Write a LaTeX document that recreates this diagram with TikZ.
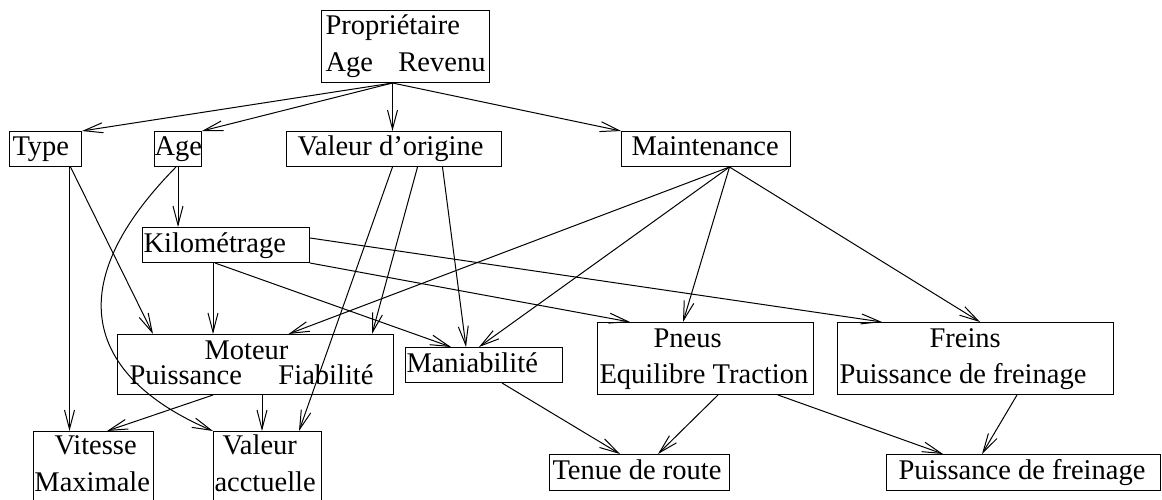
\documentclass[tikz,border=0pt]{standalone}
\usepackage{fontspec}
\setmainfont{Liberation Serif}
\usetikzlibrary{arrows.meta}
\newcommand\OneL[3]{\hbox to #1{\hskip#2\relax\rule[-6.5pt]{0pt}{27pt}#3\hss}}
\newcommand\TwoL[7]{\vbox{\baselineskip=#2\lineskiplimit=-100pt\lineskip=0pt\hbox to #1{\hskip#3\relax\rule[-6.5pt]{0pt}{27pt}#4\hss}\hbox to #1{\hskip#5\relax\rule[-#7]{0pt}{\dimexpr20.5pt+#7\relax}#6\hss}}}
\tikzset{
  box/.style={draw, line width=1pt, inner sep=0pt, anchor=north west, font=\fontsize{28.5}{34}\selectfont},
  arr/.style={-{Straight Barb[length=19pt,width=10pt]}, line width=1pt}
}
\begin{document}
\begin{tikzpicture}[x=1pt,y=-1pt]
\useasboundingbox (0,0) rectangle (1162,500);
\clip (0,0) rectangle (1162,500);
% boxes
\node[box,minimum width=168pt,minimum height=72pt] (prop) at (321,10) {\TwoL{168pt}{37pt}{4pt}{Propriétaire}{4pt}{\makebox[160pt]{Age\hfill Revenu}}{6.5pt}};
\node[box,minimum width=72pt,minimum height=35pt] (type) at (9,131) {\OneL{72pt}{3pt}{Type}};
\node[box,minimum width=47pt,minimum height=35pt] (age) at (154,131) {\OneL{47pt}{0pt}{Age}};
\node[box,minimum width=215pt,minimum height=35pt] (vo) at (286,131) {\OneL{215pt}{11pt}{Valeur d’origine}};
\node[box,minimum width=169pt,minimum height=35pt] (maint) at (621,131) {\OneL{169pt}{10pt}{Maintenance}};
\node[box,minimum width=167pt,minimum height=35pt] (km) at (142,227) {\OneL{167pt}{1pt}{Kilométrage}};
\node[box,minimum width=276pt,minimum height=60pt] (mot) at (117,334) {\TwoL{276pt}{25pt}{87pt}{Moteur}{12pt}{\makebox[244pt]{Puissance\hfill Fiabilité}}{6.5pt}};
\node[box,minimum width=157pt,minimum height=35pt] (man) at (405,347) {\OneL{157pt}{1pt}{Maniabilité}};
\node[box,minimum width=120pt,minimum height=89pt] (vit) at (33,431) {\TwoL{120pt}{37pt}{21pt}{Vitesse}{1pt}{Maximale}{26.5pt}};
\node[box,minimum width=108pt,minimum height=89pt] (va) at (213,431) {\TwoL{108pt}{37pt}{9pt}{Valeur}{1pt}{acctuelle}{26.5pt}};
\node[box,minimum width=216pt,minimum height=72pt] (pneus) at (597,322) {\TwoL{216pt}{36pt}{56pt}{Pneus}{2pt}{Equilibre Traction}{6.5pt}};
\node[box,minimum width=276pt,minimum height=72pt] (freins) at (837,322) {\TwoL{276pt}{36pt}{92pt}{Freins}{2pt}{Puissance de freinage}{6.5pt}};
\node[box,minimum width=180pt,minimum height=36pt] (tenue) at (549,454) {\OneL{180pt}{3pt}{Tenue de route}};
\node[box,minimum width=274pt,minimum height=36pt] (pdf) at (886,454) {\OneL{274pt}{12pt}{Puissance de freinage}};
% connectors from Propriétaire
\draw[arr] ([xshift=-13pt]prop.south) -- (type.north east);
\draw[arr] ([xshift=-13pt]prop.south) -- (age.north east);
\draw[arr] ([xshift=-13pt]prop.south) -- ([xshift=-13pt]prop.south |- vo.north);
\draw[arr] ([xshift=-13pt]prop.south) -- (maint.north west);
% Age
\draw[arr] (age.south) -- (age.south |- km.north);
\draw[arr] ([xshift=-2pt]age.south) .. controls (45,300) and (105,385) .. (va.north west);
% Type
\draw[arr] ([xshift=24pt]type.south) -- ([xshift=24pt]type.south |- vit.north);
\draw[arr] ([xshift=25pt]type.south) -- ([xshift=36pt]mot.north west);
% Kilometrage
\draw[arr] ([xshift=71pt]km.south west) -- ([xshift=71pt]km.south west |- mot.north);
\draw[arr] ([xshift=73pt]km.south west) -- ([xshift=46pt]man.north west);
\draw[arr] (km.south east) -- ([xshift=33pt]pneus.north west);
\draw[arr] ([yshift=-11pt]km.north east) -- ([xshift=45pt]freins.north west);
% Valeur d'origine
\draw[arr] ([xshift=-1.5pt]vo.south) -- ([xshift=86pt]va.north west);
\draw[arr] ([xshift=23.5pt]vo.south) -- ([xshift=-22pt]mot.north east);
\draw[arr] ([xshift=48.5pt]vo.south) -- ([xshift=61pt]man.north west);
% Maintenance
\draw[arr] ([xshift=23.5pt]maint.south) -- ([xshift=33pt]mot.north);
\draw[arr] ([xshift=23.5pt]maint.south) -- ([xshift=74pt]man.north west);
\draw[arr] ([xshift=23.5pt]maint.south) -- ([xshift=86pt]pneus.north west);
\draw[arr] ([xshift=23.5pt]maint.south) -- ([xshift=143pt]freins.north west);
% Moteur
\draw[arr] ([xshift=96pt]mot.south west) -- ([xshift=74pt]vit.north west);
\draw[arr] ([xshift=145pt]mot.south west) -- ([xshift=145pt]mot.south west |- va.north);
% Maniabilite, Pneus, Freins
\draw[arr] ([xshift=97pt]man.south west) -- ([xshift=71pt]tenue.north west);
\draw[arr] ([xshift=121pt]pneus.south west) -- ([xshift=109pt]tenue.north west);
\draw[arr] ([xshift=181pt]pneus.south west) -- ([xshift=57pt]pdf.north west);
\draw[arr] ([xshift=180pt]freins.south west) -- ([xshift=96pt]pdf.north west);
\end{tikzpicture}
\end{document}
